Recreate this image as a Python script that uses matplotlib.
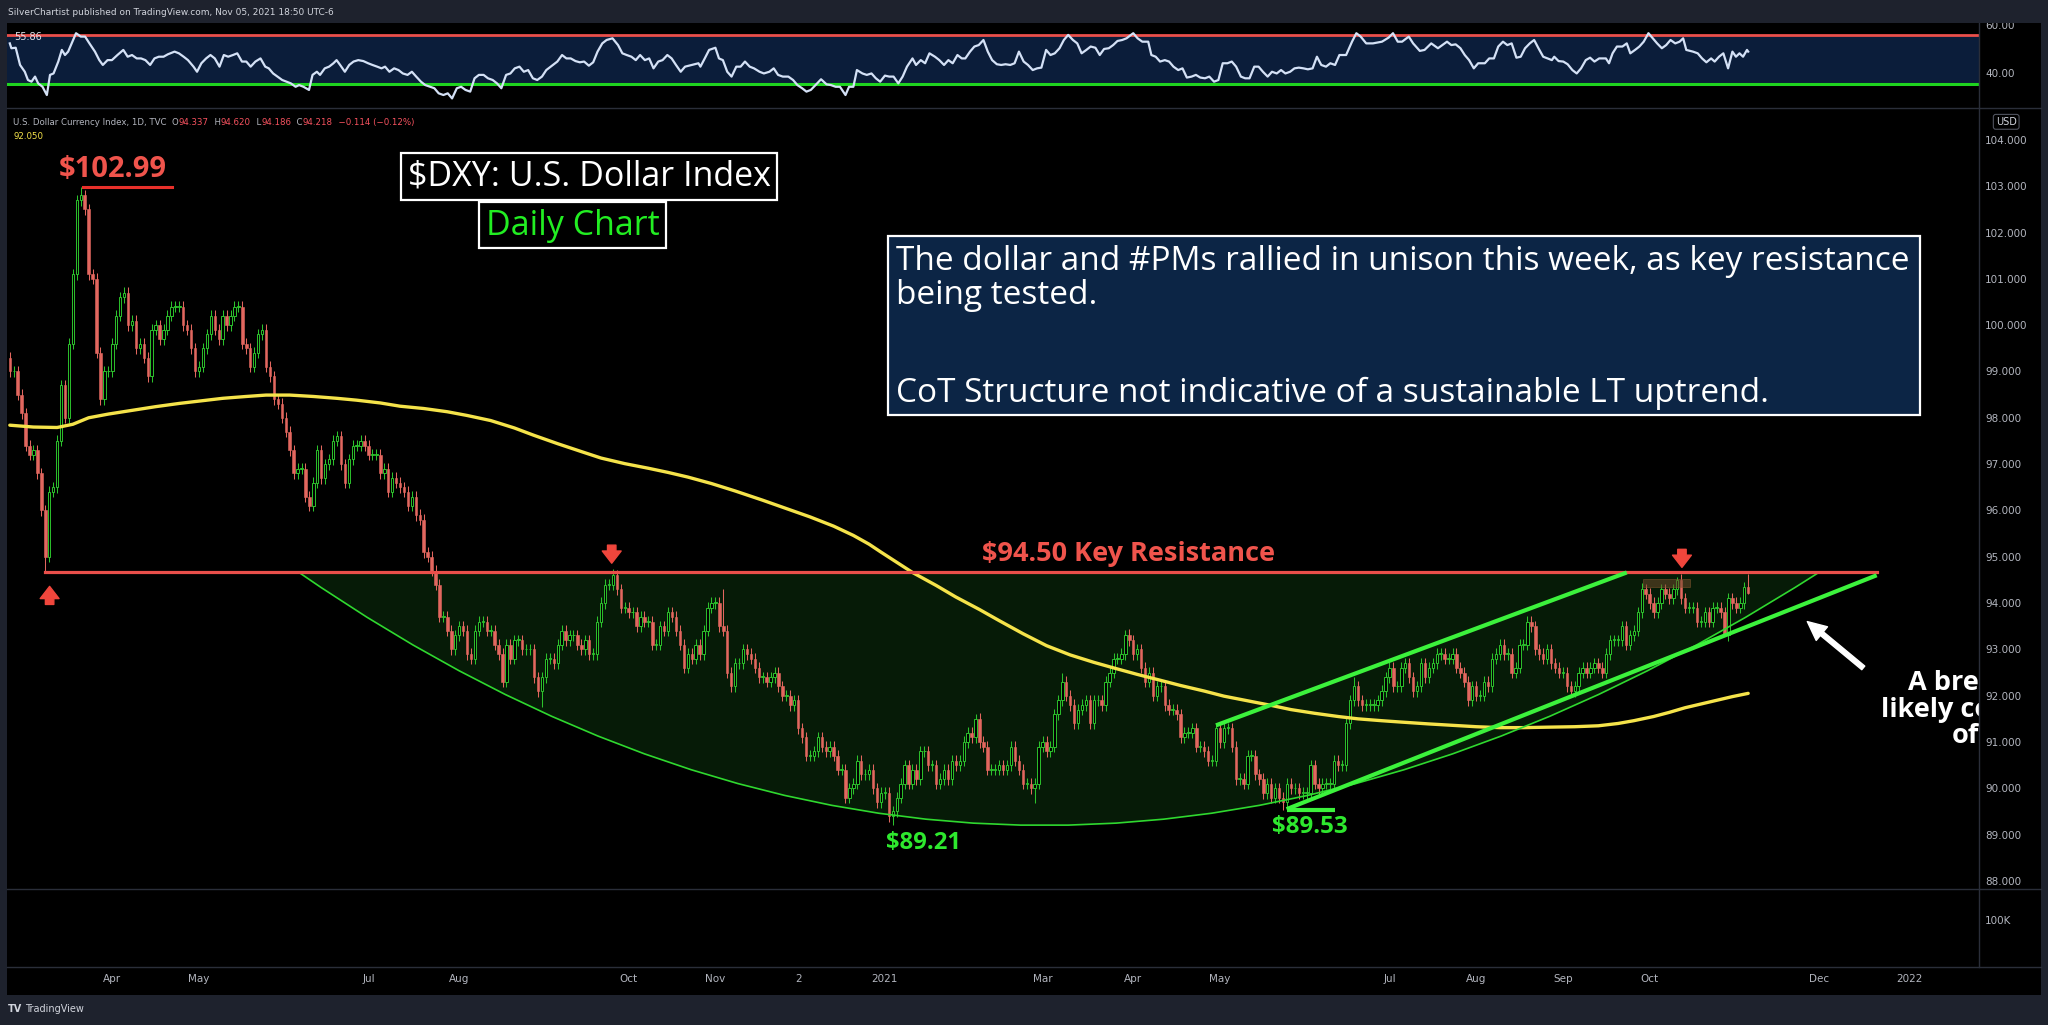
import numpy as np
import pandas as pd
import matplotlib
matplotlib.use("Agg")
import matplotlib.pyplot as plt
from matplotlib.patches import Rectangle, PathPatch
from matplotlib.path import Path
from matplotlib.lines import Line2D

# ---------------- data ----------------
first_open = 99.3
c_2020_02 = [99.0, 99.0, 98.5, 98.1]
c_2020_03 = [97.4, 97.2, 97.3, 96.8, 96.0, 95.0, 96.4, 96.5, 97.5, 98.7, 98.0, 99.6, 101.1, 102.7,
             102.8, 102.5, 101.1, 101.0, 99.4, 98.4, 99.0, 99.0]
c_2020_04 = [99.6, 100.2, 100.6, 100.7, 100.0, 100.1, 99.5, 99.6, 99.3, 98.9, 99.9, 100.0, 99.7, 99.9,
             100.2, 100.4, 100.4, 100.4, 100.0, 99.9, 99.5, 99.0]
c_2020_05 = [99.1, 99.5, 99.8, 100.2, 99.9, 99.7, 100.2, 100.0, 100.2, 100.4, 100.4, 99.6, 99.5, 99.1,
             99.4, 99.8, 99.9, 99.1, 98.9, 98.4, 98.3]
c_2020_06 = [98.0, 97.7, 97.3, 96.8, 96.9, 96.9, 96.3, 96.1, 96.6, 97.3, 96.7, 97.0, 97.1, 97.5, 97.6,
             97.0, 96.6, 97.1, 97.4, 97.4, 97.5, 97.4]
c_2020_07 = [97.2, 97.2, 97.2, 96.8, 96.9, 96.4, 96.7, 96.6, 96.5, 96.4, 96.1, 96.3, 95.9, 95.8, 95.1,
             95.0, 94.7, 94.4, 93.7, 93.7, 93.4, 93.0, 93.3]
c_2020_08 = [93.5, 93.4, 92.9, 92.8, 93.4, 93.6, 93.6, 93.4, 93.4, 93.1, 92.9, 92.3, 93.1, 92.8, 93.2,
             93.2, 93.0, 93.0, 93.0, 92.4, 92.1]
c_2020_09 = [92.4, 92.8, 92.8, 92.7, 93.1, 93.4, 93.2, 93.3, 93.3, 93.1, 93.0, 93.2, 92.9, 92.9, 93.6,
             94.0, 94.4, 94.4, 94.6, 94.3, 93.9, 93.9]
c_2020_10 = [93.8, 93.8, 93.5, 93.7, 93.6, 93.6, 93.1, 93.1, 93.5, 93.4, 93.8, 93.7, 93.4, 93.1, 92.6,
             92.9, 92.8, 93.1, 92.9, 93.4, 93.9, 94.0]
c_2020_11 = [94.0, 93.5, 93.4, 92.5, 92.2, 92.7, 92.7, 93.0, 92.9, 92.8, 92.6, 92.4, 92.4, 92.3, 92.4,
             92.5, 92.2, 92.0, 92.0, 91.8, 91.9]
c_2020_12 = [91.3, 91.1, 90.7, 90.7, 90.8, 91.1, 90.9, 90.8, 90.9, 90.7, 90.4, 90.4, 89.8, 90.0, 90.1,
             90.6, 90.3, 90.3, 90.4, 90.0, 89.7, 89.9]
c_2021_01 = [89.9, 89.4, 89.5, 89.8, 90.1, 90.5, 90.1, 90.4, 90.2, 90.8, 90.8, 90.5, 90.5, 90.1, 90.2,
             90.4, 90.2, 90.6, 90.5, 90.6]
c_2021_02 = [91.0, 91.2, 91.1, 91.5, 91.0, 90.9, 90.4, 90.4, 90.4, 90.5, 90.4, 90.5, 90.9, 90.6, 90.4,
             90.1, 90.1, 90.0, 90.1, 90.9]
c_2021_03 = [91.0, 90.8, 90.9, 91.6, 91.9, 92.3, 92.0, 91.8, 91.4, 91.7, 91.8, 91.9, 91.4, 91.9, 91.9,
             91.8, 92.3, 92.5, 92.8, 92.8, 92.9, 93.3, 93.2]
c_2021_04 = [92.9, 93.0, 92.6, 92.3, 92.5, 92.0, 92.2, 92.2, 91.8, 91.7, 91.7, 91.6, 91.1, 91.2, 91.2,
             91.3, 90.9, 90.9, 90.8, 90.6, 90.6, 91.3]
c_2021_05 = [91.0, 91.3, 91.3, 90.9, 90.2, 90.2, 90.1, 90.7, 90.7, 90.3, 90.2, 89.9, 90.1, 89.8, 90.0,
             89.8, 89.7, 90.1, 90.0, 90.0, 89.9]
c_2021_06 = [89.9, 89.9, 90.5, 90.1, 90.0, 90.1, 90.1, 90.1, 90.6, 90.5, 90.5, 91.4, 91.9, 92.2, 91.9,
             91.8, 91.8, 91.8, 91.8, 91.9, 92.1, 92.4]
c_2021_07 = [92.6, 92.2, 92.2, 92.6, 92.7, 92.4, 92.1, 92.2, 92.7, 92.4, 92.6, 92.7, 92.9, 92.9, 92.8,
             92.8, 92.9, 92.6, 92.5, 92.3, 91.9, 92.2]
c_2021_08 = [92.0, 92.0, 92.3, 92.2, 92.8, 92.9, 93.1, 92.9, 92.9, 92.5, 92.6, 93.1, 93.1, 93.6, 93.5,
             93.0, 92.9, 92.8, 93.0, 92.7, 92.6, 92.5]
c_2021_09 = [92.5, 92.2, 92.1, 92.2, 92.5, 92.6, 92.5, 92.6, 92.7, 92.6, 92.5, 92.9, 93.2, 93.2, 93.2,
             93.5, 93.1, 93.3, 93.4, 93.8, 94.3, 94.2]
c_2021_10 = [94.0, 93.8, 94.0, 94.3, 94.2, 94.1, 94.3, 94.5, 94.1, 93.9, 93.9, 93.9, 93.6, 93.6, 93.8,
             93.6, 93.9, 93.9, 93.8, 93.3, 94.1]
c_2021_11 = [94.0, 93.9, 94.0, 94.337, 94.218]

high_marks = {18: 102.99, 153: 94.74, 181: 94.30, 245: 91.60, 267: 92.50, 284: 93.44, 341: 92.40,
              386: 93.73, 414: 94.44, 423: 94.56, 441: 94.62}
low_marks = {9: 94.65, 135: 91.75, 224: 89.21, 260: 89.68, 323: 89.53, 435: 93.28, 441: 94.186}
wick = 0.12

# 200-day SMA (bar index, value)
sma_pos = [0, 6, 12, 16, 20, 25, 31, 37, 43, 49, 54, 60, 65, 71, 77, 83, 88, 94, 99, 105, 111, 116,
           122, 128, 133, 139, 145, 150, 156, 162, 167, 172, 178, 184, 191, 197, 203, 209, 214, 218,
           221, 225, 229, 235, 240, 246, 251, 257, 263, 269, 275, 280, 286, 292, 297, 303, 308, 314,
           320, 325, 331, 337, 342, 348, 353, 360, 366, 372, 378, 384, 390, 397, 403, 408, 412, 417,
           421, 425, 429, 433, 437, 441]
sma_val = [97.84, 97.80, 97.79, 97.86, 98.00, 98.08, 98.16, 98.24, 98.31, 98.37, 98.42, 98.46, 98.49,
           98.49, 98.46, 98.42, 98.38, 98.32, 98.25, 98.20, 98.13, 98.05, 97.94, 97.78, 97.62, 97.44,
           97.27, 97.13, 97.01, 96.91, 96.82, 96.72, 96.58, 96.42, 96.22, 96.04, 95.86, 95.66, 95.46,
           95.27, 95.10, 94.88, 94.66, 94.38, 94.13, 93.86, 93.62, 93.34, 93.08, 92.88, 92.72, 92.60,
           92.46, 92.33, 92.22, 92.10, 91.99, 91.89, 91.79, 91.70, 91.62, 91.55, 91.50, 91.46, 91.43,
           91.39, 91.36, 91.33, 91.31, 91.31, 91.32, 91.33, 91.35, 91.40, 91.46, 91.55, 91.64, 91.74,
           91.82, 91.90, 91.98, 92.05]

# oscillator in the top pane (bar index, value)
rsi_pos = [0.0, 0.4, 1.5, 2.6, 3.8, 4.6, 5.5, 6.4, 7.2, 8.3, 9.4, 10.2, 11.1, 12.3, 13.2, 14.0, 14.8,
           15.7, 16.8, 18.0, 19.1, 20.2, 21.6, 22.7, 23.6, 24.8, 25.9, 27.3, 28.8, 29.9, 31.0, 32.2,
           33.3, 34.4, 35.6, 36.7, 37.8, 39.0, 40.1, 41.8, 42.9, 44.1, 45.2, 46.6, 47.5, 48.6, 49.8,
           50.9, 52.0, 53.2, 54.3, 55.4, 56.6, 57.7, 58.9, 60.0, 61.1, 62.3, 63.6, 64.8, 65.7, 66.8,
           67.9, 69.1, 70.2, 71.3, 72.5, 73.4, 74.5, 75.9, 76.8, 77.9, 78.7, 79.9, 81.0, 82.1, 82.9,
           83.8, 85.0, 86.1, 87.2, 88.4, 89.7, 90.9, 92.0, 93.2, 94.3, 95.2, 96.3, 97.5, 98.6, 99.7,
           100.9, 102.0, 103.1, 104.3, 105.4, 106.6, 107.7, 108.8, 110.0, 111.1, 112.2, 113.4, 114.5,
           115.6, 116.8, 117.9, 119.0, 120.2, 121.3, 122.5, 123.6, 124.7, 125.9, 127.0, 128.1, 129.3,
           130.4, 131.5, 132.7, 133.8, 135.0, 136.1, 137.8, 138.9, 140.1, 141.2, 142.3, 143.5, 144.6,
           145.7, 146.9, 148.0, 149.1, 150.3, 151.4, 152.9, 154.3, 155.4, 156.5, 157.7, 158.8, 159.9,
           161.1, 162.2, 163.3, 164.5, 165.6, 166.8, 167.9, 169.0, 170.2, 171.3, 173.0, 174.7,
           175.2, 176.3, 177.4, 179.0, 179.9, 180.9, 182.0, 183.1, 184.3, 185.4, 186.5, 187.7, 188.8,
           190.2, 191.3, 192.7, 193.8, 194.9, 196.1, 197.5, 198.7, 199.8, 201.0, 202.1, 203.2, 204.4,
           205.8, 207.2, 208.3, 209.5, 210.6, 212.0, 212.9, 214.0, 214.9, 216.3, 217.4, 218.6, 219.7,
           220.8, 222.0, 223.1, 224.2, 225.4, 226.5, 227.6, 229.0, 229.9, 231.1, 232.2, 233.3, 234.7,
           235.8, 237.0, 238.1, 239.2, 240.4, 241.5, 242.4, 243.6, 244.7, 245.8, 247.0, 248.1, 249.2,
           250.4, 251.5, 252.6, 253.8, 254.9, 256.0, 257.2, 258.3, 259.5, 260.6, 261.7, 262.9, 264.0,
           265.1, 266.3, 267.4, 268.5, 269.7, 270.8, 271.9, 273.1, 274.2, 275.4, 276.5, 277.6, 278.8,
           279.9, 281.0, 282.2, 283.3, 285.0, 286.1, 287.3, 288.8, 289.6, 290.7, 291.8, 293.0, 294.1,
           295.2, 296.4, 297.5, 298.6, 299.8, 300.9, 302.0, 303.2, 304.3, 305.5, 306.6, 307.7, 308.9,
           310.0, 311.1, 312.3, 313.4, 314.5, 315.7, 316.8, 317.9, 319.1, 320.2, 321.4, 322.5, 323.6,
           324.8, 325.9, 327.0, 328.2,
           329.3, 330.5, 331.6, 332.7, 333.9, 335.0, 336.2, 337.3, 339.0, 340.5, 341.6, 342.7, 344.1,
           345.8, 348.1, 349.8, 350.9, 352.1, 353.2, 354.9, 356.0, 357.7, 358.9, 360.6, 362.3, 363.4,
           364.6, 365.7, 366.8, 368.0, 369.1, 370.2, 371.4, 372.5, 374.2, 375.3, 376.5, 377.6, 378.8,
           379.9, 381.0, 382.2, 383.3, 384.4, 385.6, 386.7, 387.8, 389.0, 390.1, 391.2, 391.8, 392.9,
           394.1, 395.2, 396.4, 397.5, 398.6, 399.8, 400.9, 402.0, 403.2, 404.9, 405.7, 406.6, 407.7,
           409.1, 410.2, 411.1, 412.3, 413.4, 414.5, 415.7, 416.8, 417.9, 419.1, 420.2, 421.3, 422.5,
           423.6, 424.5, 425.3, 427.0, 428.2, 429.3, 430.4, 431.6, 432.5, 433.6, 434.7, 435.9, 437.0,
           437.9, 438.8, 439.7, 440.7, 441.0]
rsi_val = [52.4, 50.4, 50.6, 43.5, 40.7, 37.3, 36.6, 38.7, 35.9, 34.5, 31.1, 39.4, 40.0, 44.9, 49.7,
           47.6, 49.0, 52.4, 56.6, 55.2, 55.2, 52.4, 49.0, 45.5, 43.5, 45.5, 45.5, 47.6, 49.7, 46.9,
           47.6, 46.2, 46.2, 45.5, 43.5, 46.2, 46.9, 46.9, 47.9, 49.0, 48.3, 46.9, 45.5, 42.8, 40.7,
           44.2, 46.2, 47.6, 46.2, 42.8, 47.6, 46.9, 47.6, 48.3, 44.9, 44.9, 42.8, 44.9, 46.2, 42.8,
           42.1, 40.0, 38.7, 37.3, 36.6, 35.9, 34.5, 35.2, 34.5, 33.2, 39.4, 40.7, 39.4, 42.1, 42.8,
           44.2, 45.5, 43.5, 40.7, 43.5, 44.9, 45.5, 45.1, 44.2, 43.5, 42.8, 42.1, 42.8, 40.7, 42.1,
           41.4, 40.0, 39.4, 40.7, 38.7, 36.6, 35.2, 34.5, 33.9, 31.8, 31.1, 31.8, 29.7, 33.9, 34.5,
           33.2, 32.5, 38.0, 39.4, 39.4, 38.0, 37.3, 35.9, 33.9, 39.4, 40.0, 42.1, 42.8, 40.7, 41.4,
           38.0, 37.3, 38.7, 41.4, 43.5, 44.9, 47.6, 46.2, 46.2, 45.1, 44.6, 44.9, 43.2, 44.6, 49.0,
           52.4, 53.8, 54.5, 51.7, 48.3, 47.6, 46.9, 45.5, 47.6, 45.5, 46.2, 42.1, 44.9, 45.5, 47.6,
           46.2, 43.5, 40.7, 42.8, 43.5, 44.2,
           42.8, 46.2, 49.7, 50.6, 46.2, 45.5, 40.7, 38.7, 42.8, 42.8, 44.9, 42.8, 42.1, 40.7, 40.0,
           40.7, 42.1, 39.4, 38.7, 38.7, 37.3, 35.2, 33.9, 32.5, 33.2, 35.2, 37.6, 35.5, 35.2, 34.5,
           34.5, 31.1, 34.5, 34.5, 41.4, 40.0, 39.4, 40.0, 38.0, 36.6, 39.1, 38.7, 38.7, 35.9, 38.7,
           42.8, 46.2, 43.5, 45.5, 44.2, 48.3, 46.9, 45.5, 43.5, 45.5, 44.2, 47.6, 46.2, 46.2, 49.0,
           51.1, 51.7, 53.8, 49.0, 45.5, 43.8, 43.5, 43.8, 43.5, 44.2, 49.0, 44.9, 43.5, 41.4, 42.1,
           42.4, 49.7, 47.6, 48.3, 50.4, 53.8, 55.9, 53.8, 52.4, 48.3, 49.7, 51.1, 50.6, 47.6, 50.1,
           50.4, 51.7, 53.4, 53.8, 54.5, 56.6, 54.5, 53.1, 53.1, 47.6, 46.9, 44.9, 45.5, 44.9, 42.8,
           41.4, 42.1, 38.3, 38.7, 39.4, 38.3, 38.0, 38.7, 36.6, 37.3, 44.2, 44.2, 44.9, 42.8, 38.7,
           38.0, 38.0, 42.8, 42.8, 40.7, 38.7, 40.7, 40.0, 41.4, 40.0, 40.7, 42.1, 42.4, 42.1,
           41.7, 42.1, 46.9, 43.5, 42.8, 44.2, 43.5, 47.6, 47.6, 53.1, 56.6, 55.2, 52.4, 52.4, 53.1,
           54.8, 56.6, 53.1, 53.1, 55.2, 52.4, 49.3, 49.7, 52.4, 50.4, 51.7, 53.1, 51.7, 52.0, 50.4,
           47.6, 45.5, 42.1, 44.2, 44.2, 46.2, 46.2, 51.1, 53.1, 51.7, 52.4, 46.5, 46.9, 50.4, 52.4,
           53.8, 50.4, 46.9, 46.2, 45.5, 46.9, 45.1, 44.9, 43.8, 41.4, 40.0, 42.1, 45.5, 46.5, 44.9,
           46.2, 46.2, 44.2, 48.3, 51.1, 51.1, 52.4, 48.3, 49.7, 51.1, 53.1, 56.6, 54.5, 52.4, 50.4,
           51.7, 53.8, 52.4, 53.1, 54.5, 49.7, 49.0, 48.3, 46.2, 44.6, 46.2, 44.9, 46.9, 48.3, 42.1,
           49.0, 46.9, 48.3, 46.9, 49.7, 49.0]
rsi_upper, rsi_lower = 55.86, 35.5

resistance = 94.67
tick_months = ['2020-04', '2020-05', '2020-07', '2020-08', '2020-10', '2020-11', '2020-12', '2021-01',
               '2021-03', '2021-04', '2021-05', '2021-07', '2021-08', '2021-09', '2021-10', '2021-12',
               '2022-01']
tick_labels = ['Apr', 'May', 'Jul', 'Aug', 'Oct', 'Nov', '2', '2021', 'Mar', 'Apr', 'May', 'Jul', 'Aug',
               'Sep', 'Oct', 'Dec', '2022']
price_ticks = list(range(88, 105))

# ---------------- derived series ----------------
closes = np.array(c_2020_02 + c_2020_03 + c_2020_04 + c_2020_05 + c_2020_06 + c_2020_07 + c_2020_08 +
                  c_2020_09 + c_2020_10 + c_2020_11 + c_2020_12 + c_2021_01 + c_2021_02 + c_2021_03 +
                  c_2021_04 + c_2021_05 + c_2021_06 + c_2021_07 + c_2021_08 + c_2021_09 + c_2021_10 +
                  c_2021_11)
n = len(closes)
opens = np.r_[first_open, closes[:-1]]
highs = np.maximum(opens, closes) + wick
lows = np.minimum(opens, closes) - wick
for k, v in high_marks.items():
    highs[k] = v
for k, v in low_marks.items():
    lows[k] = v

days = pd.bdate_range('2020-02-25', '2022-02-28')
days = days[~days.isin(pd.to_datetime(['2020-12-25', '2021-01-01']))]
tick_pos = [int(np.argmax(days >= pd.Timestamp(m + '-01'))) for m in tick_months]

# ---------------- layout helpers (reference grid 1568 x 785) ----------------
GW, GH = 1568.0, 785.0
def fx(x): return x / GW
def fy(y): return 1 - y / GH

BG = '#1e222d'
SEP = '#2a2e39'
AX_TXT = '#b2b5be'
RED = '#ea4f4a'
GREEN_LINE = '#3cf23c'
UP = '#2cc22c'
DN = '#e2675f'
YEL = '#f5e34a'
TF = ['Open Sans', 'DejaVu Sans']
UI = ['DejaVu Sans']

fig = plt.figure(figsize=(20.48, 10.25), dpi=100, facecolor=BG)
fig.add_artist(Rectangle((fx(5), fy(762)), fx(1563) - fx(5), fy(17.5) - fy(762),
                         transform=fig.transFigure, facecolor='black', edgecolor='none', zorder=-10))

xl = (-0.83, 499.5)
ax_rsi = fig.add_axes([fx(5), fy(82), fx(1515) - fx(5), fy(17.5) - fy(82)])
ax = fig.add_axes([fx(5), fy(680), fx(1515) - fx(5), fy(83) - fy(680)])
ax_vol = fig.add_axes([fx(5), fy(740), fx(1515) - fx(5), fy(681) - fy(740)])
for a in (ax_rsi, ax, ax_vol):
    a.set_facecolor('black')
    a.set_xlim(*xl)
    for s in a.spines.values():
        s.set_visible(False)
    a.yaxis.tick_right()
    a.tick_params(axis='y', length=0, pad=4.5, labelsize=7.5, colors=AX_TXT)
    a.tick_params(axis='x', length=0)
ax_rsi.set_xticks([])
ax.set_xticks([])

# separators
for yy in (82.5, 680.5, 740.5):
    fig.add_artist(Line2D([fx(5), fx(1563)], [fy(yy), fy(yy)], color=SEP, lw=1.0,
                          transform=fig.transFigure, zorder=5))
fig.add_artist(Line2D([fx(1515), fx(1515)], [fy(17.5), fy(740.5)], color=SEP, lw=1.0,
                      transform=fig.transFigure, zorder=5))

# ---------------- oscillator pane ----------------
ax_rsi.set_ylim(26.13, 60.87)
ax_rsi.axhspan(rsi_lower, rsi_upper, color='#0b1d3a', zorder=0)
ax_rsi.axhline(rsi_upper, color=RED, lw=2.0, zorder=2)
ax_rsi.axhline(rsi_lower, color='#1fd41f', lw=2.2, zorder=2)
ax_rsi.plot(rsi_pos, rsi_val, color='#d4e1f6', lw=1.6, zorder=3)
ax_rsi.set_yticks([40, 60])
ax_rsi.set_yticklabels(['40.00', '60.00'])
ax_rsi.text(1.2, 55.2, '55.86', fontsize=7, color='#e0e3eb', va='center', ha='left', family=UI, zorder=4)

# ---------------- main pane ----------------
ax.set_ylim(87.85, 104.68)
ax.set_yticks(price_ticks)
ax.set_yticklabels([f'{v:.3f}' for v in price_ticks])

# cup shading and arc
P0, P1, P2 = (73.2, resistance), (258.8, 83.73), (459.1, resistance)
cup_fill = Path([P0, P1, P2, P0, P0], [Path.MOVETO, Path.CURVE3, Path.CURVE3, Path.LINETO, Path.CLOSEPOLY])
ax.add_patch(PathPatch(cup_fill, facecolor='#061b07', edgecolor='none', zorder=1))
cup_arc = Path([P0, P1, P2], [Path.MOVETO, Path.CURVE3, Path.CURVE3])
ax.add_patch(PathPatch(cup_arc, facecolor='none', edgecolor='#2fd82f', lw=1.2, zorder=6))

# candles
x = np.arange(n)
up = closes >= opens
body_lo = np.minimum(opens, closes)
body_h = np.maximum(np.abs(closes - opens), 0.015)
ax.vlines(x[up], lows[up], highs[up], color=UP, lw=0.75, zorder=3)
ax.vlines(x[~up], lows[~up], highs[~up], color=DN, lw=0.75, zorder=3)
ax.bar(x[up], body_h[up], bottom=body_lo[up], width=0.62, facecolor='black', edgecolor=UP, lw=0.7, zorder=4)
ax.bar(x[~up], body_h[~up], bottom=body_lo[~up], width=0.62, facecolor=DN, edgecolor=DN, lw=0.4, zorder=4)

# small box near the latest top
ax.add_patch(Rectangle((414.3, 94.35), 11.9, 0.17, facecolor='#6b4a2b', alpha=0.55,
                       edgecolor='#8a5a30', lw=0.6, zorder=4.5))

# 200 SMA
ax.plot(sma_pos, sma_val, color=YEL, lw=2.4, zorder=5, solid_capstyle='round', solid_joinstyle='round')

# resistance line
ax.plot([9, 473.6], [resistance, resistance], color=RED, lw=2.3, zorder=6)
# high marker
ax.plot([18.5, 41.1], [102.99, 102.99], color='#e8302a', lw=2.2, zorder=6)

# channel lines
ax.plot([306.0, 410.2], [91.36, 94.66], color=GREEN_LINE, lw=3.0, zorder=7, solid_capstyle='butt')
ax.plot([323.9, 473.6], [89.55, 94.60], color=GREEN_LINE, lw=3.0, zorder=7, solid_capstyle='butt')
ax.plot([323.9, 336.1], [89.53, 89.53], color=GREEN_LINE, lw=3.0, zorder=7, solid_capstyle='butt')

# red arrows
arr = dict(arrowstyle='simple,head_length=0.55,head_width=0.85,tail_width=0.38',
           color='#f0463c', shrinkA=0, shrinkB=0, mutation_scale=16)
ax.annotate('', xy=(10.1, 94.36), xytext=(10.1, 93.97), arrowprops=arr, zorder=8)
ax.annotate('', xy=(152.7, 94.86), xytext=(152.7, 95.25), arrowprops=arr, zorder=8)
ax.annotate('', xy=(424.2, 94.77), xytext=(424.2, 95.16), arrowprops=arr, zorder=8)
# white arrow
ax.annotate('', xy=(456.0, 93.60), xytext=(470.2, 92.60),
            arrowprops=dict(arrowstyle='simple,head_length=0.8,head_width=0.75,tail_width=0.2',
                            color='white', shrinkA=0, shrinkB=0, mutation_scale=17), zorder=8)

# labels in the chart
ax.text(26.0, 103.36, '$102.99', color='#f0544c', fontsize=21, fontweight='bold', family=TF,
        ha='center', va='center', zorder=9)
ax.text(283.8, 95.05, '$94.50 Key Resistance', color='#f0544c', fontsize=19.5, fontweight='bold',
        family=TF, ha='center', va='center', zorder=9)
ax.text(231.8, 88.81, '$89.21', color='#2ee82e', fontsize=17.2, fontweight='bold', family=TF,
        ha='center', va='center', zorder=9)
ax.text(329.9, 89.16, '$89.53', color='#2ee82e', fontsize=17.4, fontweight='bold', family=TF,
        ha='center', va='center', zorder=9)
for xs, ys, s in [(481.6, 92.27, 'A bre'),
                  (474.8, 91.69, 'likely co'),
                  (492.7, 91.12, 'of')]:
    ax.text(xs, ys, s, color='white', fontsize=19.5, fontweight='bold', family=TF, ha='left',
            va='center', zorder=9, clip_on=True)

# ---------------- volume pane ----------------
ax_vol.set_ylim(0, 1)
ax_vol.set_yticks([0.6])
ax_vol.set_yticklabels(['100K'])
ax_vol.set_xticks(tick_pos)
ax_vol.set_xticklabels(tick_labels)
ax_vol.tick_params(axis='x', pad=5.5, labelsize=7.5, colors=AX_TXT)

# ---------------- boxes and header texts ----------------
def box(x0, y0, x1, y1, fc, ec, lw):
    fig.add_artist(Rectangle((fx(x0), fy(y1)), fx(x1) - fx(x0), fy(y0) - fy(y1), transform=fig.transFigure,
                             facecolor=fc, edgecolor=ec, lw=lw, zorder=20))

box(307, 117, 595, 153, 'black', 'white', 1.6)
fig.text(fx(451), fy(135.5), '$DXY: U.S. Dollar Index', color='white', fontsize=24.5, family=TF,
         ha='center', va='center', zorder=21)
box(367, 155, 510, 190, 'black', 'white', 1.6)
fig.text(fx(438.5), fy(173), 'Daily Chart', color='#22ee22', fontsize=24.5, family=TF,
         ha='center', va='center', zorder=21)
box(680, 181, 1470, 318, '#0c2545', 'white', 1.6)
BT = 24
fig.text(fx(686), fy(200), 'The dollar and #PMs rallied in unison this week, as key resistance',
         color='white', fontsize=BT, family=TF, ha='left', va='center', zorder=21)
fig.text(fx(686), fy(226), 'being tested.', color='white', fontsize=BT, family=TF, ha='left',
         va='center', zorder=21)
fig.text(fx(686), fy(301), 'CoT Structure not indicative of a sustainable LT uptrend.', color='white',
         fontsize=BT, family=TF, ha='left', va='center', zorder=21)

# top bar (covers the upper half of the topmost oscillator label)
fig.add_artist(Rectangle((0, fy(17.5)), 1, 1 - fy(17.5), transform=fig.transFigure, facecolor=BG,
                         edgecolor='none', zorder=30))
fig.text(fx(6), fy(9.5), 'SilverChartist published on TradingView.com, Nov 05, 2021 18:50 UTC-6',
         color='#d1d4dc', fontsize=6.5, family=UI, ha='left', va='center', zorder=31)

# legend line of the main pane
HG = '#b2b5be'
HR = '#f7525f'
parts = [('U.S. Dollar Currency Index, 1D, TVC  O', HG), ('94.337', HR), ('  H', HG), ('94.620', HR),
         ('  L', HG), ('94.186', HR), ('  C', HG), ('94.218', HR), ('  \u22120.114 (\u22120.12%)', HR)]
t = fig.text(fx(10), fy(94), parts[0][0], color=parts[0][1], fontsize=6.2, family=UI, ha='left',
             va='center', zorder=22)
for s, c in parts[1:]:
    t = ax.annotate(s, xy=(1, 0), xycoords=t, ha='left', va='bottom', color=c, fontsize=6.2,
                    family=UI, annotation_clip=False, zorder=22)
fig.text(fx(10), fy(104.6), '92.050', color=YEL, fontsize=6.2, family=UI, ha='left', va='center', zorder=22)

fig.text(fx(1536), fy(93.3), 'USD', color='#d1d4dc', fontsize=7, family=UI, ha='center', va='center',
         zorder=22, bbox=dict(boxstyle='round,pad=0.25', fc='black', ec='#50535e', lw=0.8))

# bottom logo
fig.text(fx(6), fy(773), 'TV', color='#d1d4dc', fontsize=7, fontweight='bold', family=UI,
         ha='left', va='center')
fig.text(fx(19), fy(773), 'TradingView', color='#d1d4dc', fontsize=7, family=UI, ha='left', va='center')

fig.savefig('out.png', dpi=100, facecolor=BG)
